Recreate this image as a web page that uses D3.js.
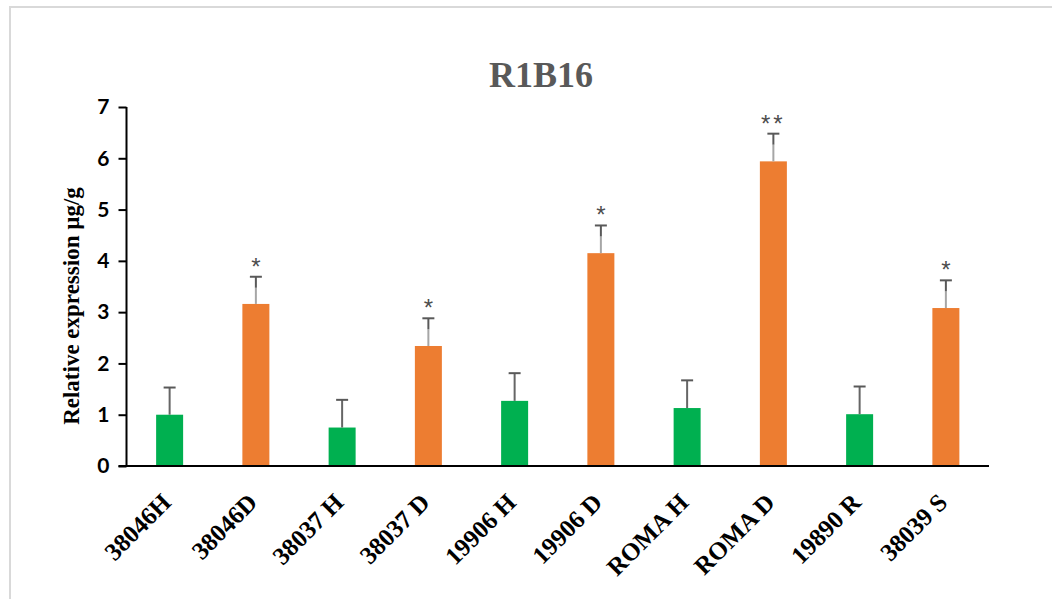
<!DOCTYPE html>
<html>
<head>
<meta charset="utf-8">
<script src="https://cdn.jsdelivr.net/npm/d3@7"></script>
<style>
  html, body { margin: 0; padding: 0; background: #fff; }
  svg { display: block; }
</style>
</head>
<body>
<svg id="chart" width="1052" height="599"></svg>
<script>
// R1B16 relative expression per genotype / treatment
const categories = ["38046H", "38046D", "38037 H", "38037 D", "19906 H", "19906 D", "ROMA H", "ROMA D", "19890 R", "38039 S"];
const values     = [1.00, 3.16, 0.75, 2.34, 1.27, 4.15, 1.13, 5.94, 1.01, 3.08];
const errors     = [0.53, 0.53, 0.54, 0.54, 0.54, 0.54, 0.54, 0.54, 0.54, 0.54];
const groups     = ["H", "D", "H", "D", "H", "D", "H", "D", "H", "D"];
const marks      = ["", "*", "", "*", "", "*", "", "**", "", "*"];
const yTicks     = [0, 1, 2, 3, 4, 5, 6, 7];

const fill = { H: "#00B050", D: "#ED7D31" };

const svg = d3.select("#chart");

// chart frame
svg.append("rect")
  .attr("x", 10).attr("y", 7)
  .attr("width", 1060).attr("height", 620)
  .attr("fill", "#fff")
  .attr("stroke", "#d9d9d9").attr("stroke-width", 2);

const x = d3.scaleBand()
  .domain(categories)
  .range([126.5, 989])
  .paddingInner(0.687)
  .paddingOuter(0.3435);

const y = d3.scaleLinear().domain([0, 7]).range([466, 107]);

// title
svg.append("text")
  .attr("x", 541).attr("y", 87)
  .attr("text-anchor", "middle")
  .attr("font-family", "'Liberation Serif', 'Times New Roman', serif")
  .attr("font-weight", "bold")
  .attr("font-size", 36)
  .attr("fill", "#595959")
  .text("R1B16");

// bars
const bars = categories.map((c, i) => ({ c, v: values[i], e: errors[i], g: groups[i], m: marks[i] }));

svg.append("g").selectAll("rect")
  .data(bars).join("rect")
  .attr("x", d => x(d.c))
  .attr("y", d => y(d.v))
  .attr("width", x.bandwidth())
  .attr("height", d => y(0) - y(d.v))
  .attr("fill", d => fill[d.g]);

// error bars (upper only) with significance marks
const eb = svg.append("g");
bars.forEach(d => {
  const cx = x(d.c) + x.bandwidth() / 2;
  const top = y(d.v + d.e);
  const base = y(d.v);
  if (d.g === "D") {
    eb.append("line")
      .attr("x1", cx).attr("x2", cx)
      .attr("y1", top + 11).attr("y2", base)
      .attr("stroke", "#a6a6a6").attr("stroke-width", 2);
    eb.append("line")
      .attr("x1", cx).attr("x2", cx)
      .attr("y1", top).attr("y2", top + 11)
      .attr("stroke", "#595959").attr("stroke-width", 2);
  } else {
    eb.append("line")
      .attr("x1", cx).attr("x2", cx)
      .attr("y1", top).attr("y2", base)
      .attr("stroke", "#666666").attr("stroke-width", 2);
  }
  eb.append("line")
    .attr("x1", cx - 6).attr("x2", cx + 6)
    .attr("y1", top).attr("y2", top)
    .attr("stroke", "#595959").attr("stroke-width", 2);
  if (d.m) {
    eb.append("text")
      .attr("x", cx).attr("y", top - 2)
      .attr("text-anchor", "middle")
      .attr("font-family", "'Liberation Sans', Arial, sans-serif")
      .attr("font-size", 24)
      .attr("letter-spacing", d.m.length > 1 ? 3 : 0)
      .attr("fill", "#4d4d4d")
      .text(d.m);
  }
});

// y axis
const yAxis = svg.append("g")
  .attr("transform", "translate(126.5,0)")
  .call(d3.axisLeft(y).tickValues(yTicks).tickFormat(d3.format("d")).tickSize(8).tickPadding(9));
yAxis.select(".domain").attr("stroke", "#000").attr("stroke-width", 2).attr("d", "M0,466V107");
yAxis.selectAll(".tick line").attr("stroke", "#000").attr("stroke-width", 2);
yAxis.selectAll(".tick text")
  .attr("font-family", "Lato, 'Liberation Sans', sans-serif")
  .attr("font-weight", "bold")
  .attr("font-size", 21)
  .attr("fill", "#000");

// x axis
const xAxis = svg.append("g")
  .attr("transform", "translate(0,466)")
  .call(d3.axisBottom(x).tickSize(0).tickPadding(0));
xAxis.select(".domain").attr("stroke", "#000").attr("stroke-width", 2).attr("d", "M118.5,0H989");
xAxis.selectAll(".tick text")
  .attr("font-family", "'Liberation Serif', 'Times New Roman', serif")
  .attr("font-weight", "bold")
  .attr("font-size", 25)
  .attr("fill", "#000")
  .attr("text-anchor", "end")
  .attr("dy", 0)
  .attr("y", 0)
  .attr("transform", "translate(3,38) rotate(-45)");

// y axis title
svg.append("text")
  .attr("transform", "translate(79,306) rotate(-90)")
  .attr("text-anchor", "middle")
  .attr("font-family", "'Liberation Serif', 'Times New Roman', serif")
  .attr("font-weight", "bold")
  .attr("font-size", 23)
  .attr("fill", "#000")
  .text("Relative expression µg/g");
</script>
</body>
</html>
